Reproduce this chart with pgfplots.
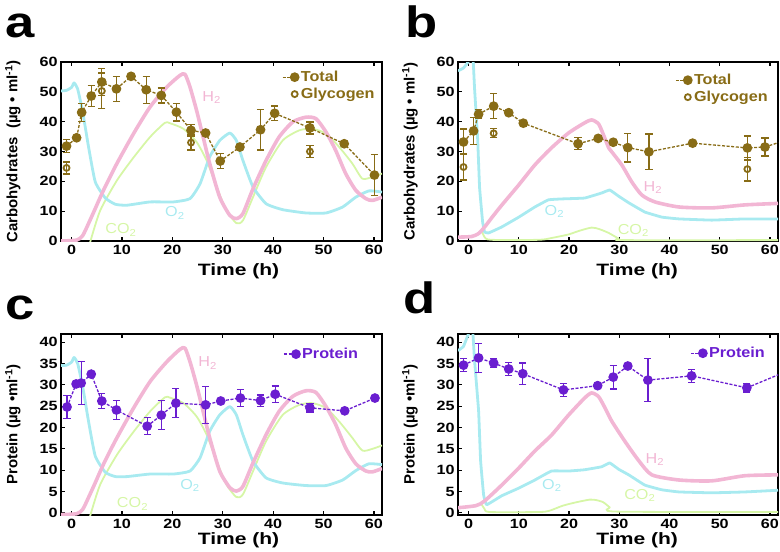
\documentclass[border=0pt]{standalone}
\usepackage{fontspec}
\setmainfont{Liberation Sans}
\usepackage{graphicx}
\usepackage{pgfplots}
\usepackage{pgfplotstable}
\pgfplotsset{compat=1.18}

\definecolor{hpink}{RGB}{242,182,212}
\definecolor{ocyan}{RGB}{168,234,240}
\definecolor{cgreen}{RGB}{214,246,166}
\definecolor{olive}{RGB}{136,108,22}
\definecolor{purp}{RGB}{106,30,208}

\newcommand{\sx}[1]{\scalebox{1.12}[1]{#1}}
\newcommand{\sxt}[1]{\scalebox{1.2}[1]{#1}}

% panel a: total carbohydrates and glycogen
\pgfplotstableread{
x y e
-1 31.8 2.2
1 34.6 0
2 43.1 3
3.9 48.6 3.5
6 53.3 4.5
8.9 51 4.2
11.8 55.2 0.5
14.8 50.7 4.5
17.8 48.8 2.5
20.8 43.2 3
23.7 37.1 2
26.6 36.2 0.5
29.5 26.8 2.5
33.4 31.5 0.5
37.5 37.3 6.8
40.3 42.8 2.5
47.3 37.9 2
54.1 32.6 0.5
60.1 22.1 6.8
}\tota
\pgfplotstableread{
x y e
-1 24.5 2
6 50.3 6
23.7 33 2.5
47.3 30 2
}\glya
% panel b
\pgfplotstableread{
x y e
-1 33.2 4.3
1 36.9 4.5
2 42.5 1.5
5 45.2 4.2
8 43 0
10.9 39.5 1
21.8 32.6 2
25.8 34.4 0.5
28.8 33.1 0
31.7 31.3 4.8
35.9 29.9 6
44.6 32.8 0
55.5 31.2 4
59 31.5 3
}\totb
\pgfplotstableread{
x y e
-1 24.8 4.4
5 36.1 1.5
55.5 24.1 4
}\glyb
% panel c: protein
\pgfplotstableread{
x y e
-0.9 24.8 2.7
0.9 30.2 0
1.9 30.4 5
3.9 32.5 0.5
6.0 26.2 1.7
8.9 24.1 2.2
15 20.3 2
17.8 22.9 3.4
20.7 25.7 3.4
26.6 25.3 4.3
29.6 26.2 0
33.5 26.9 2
37.5 26.3 1.3
40.4 27.8 1.9
47.3 24.6 1
54.2 23.9 0
60.2 26.9 0
}\protc
% panel d: protein
\pgfplotstableread{
x y e
-1 34.6 1.5
2 36.3 3.4
5 35.1 1
8 33.7 1.5
10.8 32.6 2.5
18.9 28.8 1.5
25.7 29.8 0
28.8 31.8 2.8
31.7 34.4 0
35.7 31.1 5
44.4 32.1 1.5
55.4 29.3 1
}\protd

\tikzset{gaslabel/.style={font=\fontsize{14.5}{16}\selectfont}}

\pgfplotsset{
  panel/.style={
    scale only axis,
    xmin=-2.1, xmax=61.6,
    xtick={0,10,...,60},
    tick align=inside,
    xtick pos=both, ytick pos=left,
    axis line style={line width=1.6bp},
    tick style={black, line width=1.2bp},
    major tick length=4bp,
    /pgf/number format/assume math mode=true,
    tick label style={font=\fontsize{13.5}{15}\selectfont\bfseries},
    xticklabel style={inner sep=1bp, yshift=-2.5bp},
    xticklabel={\sxt{\pgfmathprintnumber{\tick}}},
    yticklabel={\sxt{\pgfmathprintnumber{\tick}}},
    xlabel={\scalebox{1.28}[1]{Time (h)}},
    xlabel style={font=\fontsize{16.5}{18}\selectfont\bfseries, anchor=center, inner sep=0.5bp},
    ylabel style={font=\fontsize{15}{16}\selectfont\bfseries,
      at={(axis description cs:-0.15,0.5)}, anchor=center},
    legend style={draw=none, fill=none, inner sep=0pt,
      font=\fontsize{14.5}{16}\selectfont\bfseries, row sep=1bp},
    legend cell align=left,
  },
  h2/.style={forget plot, no markers, smooth, tension=0.4, hpink, line width=3.6bp, line join=round},
  o2/.style={forget plot, no markers, smooth, tension=0.3, ocyan, line width=2.8bp, line join=round},
  co2/.style={forget plot, no markers, smooth, tension=0.4, cgreen, line width=1.8bp, line join=round},
  series/.style={#1, line width=1.3bp, dash pattern=on 3bp off 1.6bp,
    mark=*, mark size=4.2bp, mark options={solid, fill=#1},
    legend image code/.code={
      \draw[##1, mark=none] (0bp,0bp) -- (9bp,0bp);
      \draw[##1, solid] plot coordinates {(12bp,0bp)};},
    error bars/.cd, y dir=both, y explicit,
    error bar style={solid, line width=1.3bp},
    error mark options={rotate=90, mark size=3.6bp, line width=1.3bp, solid}},
  glyc/.style={olive, only marks, mark=o, mark size=3bp,
    mark options={line width=1.8bp},
    legend image code/.code={
      \path[draw=none, fill=none] (0bp,-0.1bp) rectangle (9bp,0.1bp);
      \draw[olive, line width=1.8bp] plot[mark=o, mark size=3bp, only marks] coordinates {(12bp,0bp)};},
    error bars/.cd, y dir=both, y explicit,
    error bar style={line width=1.3bp},
    error mark options={rotate=90, mark size=3.6bp, line width=1.3bp}},
}

\begin{document}
\begin{tikzpicture}
\path[use as bounding box] (0,0) rectangle (780bp,-552bp);

%%%%%%%%%%%%%%%% panel a
\begin{axis}[panel, at={(61bp,-241bp)}, anchor=south west,
  width=321bp, height=179bp, ymin=0, ymax=60, ytick={0,10,...,60},
  xlabel style={at={(axis description cs:0.553,-0.17)}},
  ylabel={Carbohydrates\ \ (µg • ml\textsuperscript{-1})},
  legend style={at={(rel axis cs:0.688,0.961)}, anchor=north west, text=olive}]
\addplot[co2] coordinates {(3,-5) (3.75,0) (5.7,10.3) (9,20.3) (12.3,28) (15.6,34.9) (18.5,39.6) (19.5,39.5) (22.2,37.6) (24.8,33.2) (26.8,27) (28.8,18.1) (30.7,10.3) (32.7,6) (34,6.9) (36,14.7) (38.6,24.8) (41.9,33.7) (45.2,37.1) (47.8,37.6) (50.5,36) (53.1,31.5) (55.7,26) (57.7,20.9) (59.7,21.5) (61.6,22.6)};
\addplot[o2] coordinates {(-2.1,50.3) (-1,50.5) (0,51.5) (0.5,53) (1.2,51) (2.2,43.3) (3.4,31.2) (4.7,19.8) (6.7,14.4) (8.7,12.3) (11,12) (15.6,13.1) (20.2,13.1) (23.5,14.2) (25.5,19.2) (27.4,28.2) (29.4,33.7) (31.4,36.2) (32.7,33.7) (34,27) (36,18.1) (38.6,12.5) (41.9,10.5) (46.5,9.4) (50.5,9.4) (53.8,11.4) (56.4,14.7) (59,16.8) (61.6,16.4)};
\addplot[h2] coordinates {(-2.1,0) (1,0.3) (2.2,1.8) (3.4,6) (4.6,10.5) (5.7,14.7) (6.7,18.3) (9,26) (12.3,36) (15.6,45) (18.9,51.6) (21.5,55.5) (22.5,55.9) (23.5,51.6) (24.8,43.8) (26.1,34.9) (27.4,26) (29.4,14.7) (31.4,8.6) (32.7,7.5) (34,9.2) (36,17.5) (38.6,27) (41.2,34.9) (43.9,39.9) (46.5,41.5) (48.5,41) (50.5,36.5) (52.4,30.4) (54.4,22.6) (56.4,17) (58.4,14.2) (59.7,13.6) (61.6,14.7)};
\node[gaslabel, text=hpink] at (axis cs:27.8,48) {\sx{H\textsubscript{2}}};
\node[gaslabel, text=ocyan] at (axis cs:20.5,9.4) {\sx{O\textsubscript{2}}};
\node[gaslabel, text=cgreen] at (axis cs:9.8,3.7) {\sx{CO\textsubscript{2}}};
\addplot[series=olive] table[x=x, y=y, y error=e] {\tota};
\addlegendentry{\sx{Total}}
\addplot[glyc] table[x=x, y=y, y error=e] {\glya};
\addlegendentry{\sx{Glycogen}}
\end{axis}

%%%%%%%%%%%%%%%% panel b
\begin{axis}[panel, at={(458bp,-241bp)}, anchor=south west,
  width=320bp, height=179bp, ymin=0, ymax=60, ytick={0,10,...,60},
  xlabel style={at={(axis description cs:0.56,-0.17)}},
  ylabel={Carbohydrates (µg • ml\textsuperscript{-1})},
  legend style={at={(rel axis cs:0.678,0.944)}, anchor=north west, text=olive}]
\addplot[co2] coordinates {(2.6,3.5) (3.2,1.3) (4.5,0.4) (14,0.4) (16.5,1) (19.9,2.2) (22,3.4) (24.5,4.5) (26,4) (27.9,2.7) (29.9,0.8) (31,0.3) (61.6,0.3)};
\addplot[o2, tension=0.15] coordinates {(-2.1,57) (-1,58) (-0.3,59.5) (0.3,61) (0.9,61) (1.2,51) (1.8,34.6) (2.2,17.8) (2.8,6.4) (3.2,3) (4,2.7) (6.6,4.7) (10,8) (13.2,11.4) (15.9,13.8) (18.5,14.1) (23.1,14.4) (26.5,16.1) (28.1,17.1) (29.9,15) (31.9,12.8) (35.1,9.7) (38.5,8) (41.9,7.4) (48.4,7) (55,7.4) (61.6,7.4)};
\addplot[h2] coordinates {(-2.1,1.3) (0.6,1.5) (2,2.5) (3.2,4.7) (4.8,8.2) (6.6,12) (10,18.8) (13.2,25.5) (16.5,31.2) (19.9,36.2) (23.1,39.6) (24.5,40.6) (25.9,39.2) (27,35) (27.9,31.2) (28.5,29.9) (30.5,25.5) (32.5,19.8) (34.5,15.4) (37.1,13.1) (41.9,11.4) (48.4,11.1) (55,12.1) (61.6,12.6)};
\node[gaslabel, text=hpink] at (axis cs:36.7,17.8) {\sx{H\textsubscript{2}}};
\node[gaslabel, text=ocyan] at (axis cs:17.1,10) {\sx{O\textsubscript{2}}};
\node[gaslabel, text=cgreen] at (axis cs:32.8,3.6) {\sx{CO\textsubscript{2}}};
\addplot[olive, line width=1.3bp, dash pattern=on 3bp off 1.6bp, forget plot] coordinates {(59,31.5) (63,33.7)};
\addplot[series=olive] table[x=x, y=y, y error=e] {\totb};
\addlegendentry{\sx{Total}}
\addplot[glyc] table[x=x, y=y, y error=e] {\glyb};
\addlegendentry{\sx{Glycogen}}
\end{axis}

%%%%%%%%%%%%%%%% panel c
\begin{axis}[panel, at={(61bp,-515bp)}, anchor=south west,
  width=321bp, height=181bp, ymin=-0.5, ymax=41.9, ytick={0,5,...,40},
  xlabel style={at={(axis description cs:0.553,-0.14)}},
  ylabel={Protein (µg •ml\textsuperscript{-1})},
  legend style={at={(rel axis cs:0.692,0.934)}, anchor=north west, text=purp}]
\addplot[co2] coordinates {(3,-3.95) (3.75,-0.47) (5.7,6.69) (9,13.6) (12.3,19) (15.6,23.8) (18.5,27.05) (19.5,27) (22.2,25.7) (24.8,22.6) (26.8,18.3) (28.8,12.1) (30.7,6.69) (32.7,3.7) (34,4.33) (36,9.75) (38.6,16.8) (41.9,22.95) (45.2,25.3) (47.8,25.7) (50.5,24.55) (53.1,21.4) (55.7,17.6) (57.7,14.6) (59.7,15) (61.6,15.8)};
\addplot[o2] coordinates {(-2.1,34.5) (-1,34.6) (0,35.3) (0.5,36.4) (1.2,35) (2.2,29.6) (3.4,21.2) (4.7,13.3) (6.7,9.5) (8.7,8.5) (11,8.5) (15.6,9.1) (20.2,9.1) (23.5,9.8) (25.5,12.9) (27.4,19.1) (29.4,22.95) (31.4,24.9) (32.7,22.95) (34,18.3) (36,12.1) (38.6,8.2) (41.9,7) (46.5,6.4) (50.5,6.4) (53.8,7.7) (56.4,9.9) (59,11.5) (61.6,11.3)};
\addplot[h2] coordinates {(-2.1,-0.4) (1,-0.2) (2.2,0.8) (3.4,3.7) (4.6,6.8) (5.7,9.75) (6.7,12.3) (9,17.6) (12.3,24.55) (15.6,30.8) (18.9,35.4) (21.5,38.3) (22.5,38.6) (23.5,35.4) (24.8,29.97) (26.1,23.8) (27.4,17.6) (29.4,9.75) (31.4,5.9) (32.7,5.1) (34,6.2) (36,11.7) (38.6,18.3) (41.2,23.8) (43.9,27.3) (46.5,28.6) (48.5,28.2) (50.5,24.9) (52.4,20.7) (54.4,15.2) (56.4,11.5) (58.4,9.8) (59.7,9.6) (61.6,10.4)};
\node[gaslabel, text=hpink] at (axis cs:27,35.1) {\sx{H\textsubscript{2}}};
\node[gaslabel, text=ocyan] at (axis cs:23.5,6.4) {\sx{O\textsubscript{2}}};
\node[gaslabel, text=cgreen] at (axis cs:12.1,2.1) {\sx{CO\textsubscript{2}}};
\addplot[series=purp] table[x=x, y=y, y error=e] {\protc};
\addlegendentry{\sx{Protein}}
\end{axis}

%%%%%%%%%%%%%%%% panel d
\begin{axis}[panel, at={(458bp,-515bp)}, anchor=south west,
  width=320bp, height=181bp, ymin=-0.5, ymax=41.9, ytick={0,5,...,40},
  xlabel style={at={(axis description cs:0.56,-0.14)}},
  ylabel={Protein (µg •ml\textsuperscript{-1})},
  legend style={at={(rel axis cs:0.725,0.939)}, anchor=north west, text=purp}]
\addplot[co2] coordinates {(2.6,2) (3.2,0.9) (4.2,0.2) (14,0.2) (16.1,0.5) (18.8,1.7) (21.5,2.5) (24.1,3.1) (25.4,3) (26.8,2.5) (28.1,1.3) (29.4,0.3) (61.6,0.2)};
\addplot[o2, tension=0.15] coordinates {(-2.1,38) (-1,39) (0,42) (0.8,43) (1.2,35.6) (2,23.9) (2.4,12.2) (3,4.2) (3.6,1.9) (6.6,4) (10,5.8) (13.2,7.7) (16.5,9.8) (19.9,9.8) (23.1,10.1) (26.5,10.8) (28.1,11.7) (29.9,10.2) (31.9,8.9) (35.1,6.5) (38.5,5.4) (41.9,4.9) (48.4,4.7) (55,4.9) (61.6,5.3)};
\addplot[h2] coordinates {(-2.1,1.2) (1.5,1.7) (3.2,2.8) (6.6,6.5) (10,10.5) (13.2,14.5) (16.5,18.2) (19.9,22.9) (23.1,26.9) (24.5,28.1) (25.9,27.2) (27.2,24.5) (28.5,21.5) (31.1,16.8) (33.9,12.2) (36.5,8.9) (41.9,7.7) (48.4,7.5) (55,8.7) (61.6,8.9)};
\node[gaslabel, text=hpink] at (axis cs:37.1,12.4) {\sx{H\textsubscript{2}}};
\node[gaslabel, text=ocyan] at (axis cs:16.6,6.4) {\sx{O\textsubscript{2}}};
\node[gaslabel, text=cgreen] at (axis cs:34.1,4) {\sx{CO\textsubscript{2}}};
\addplot[purp, line width=1.3bp, dash pattern=on 3bp off 1.6bp, forget plot] coordinates {(55.4,29.3) (63,33)};
\addplot[series=purp] table[x=x, y=y, y error=e] {\protd};
\addlegendentry{\sx{Protein}}
\end{axis}

% panel letters
\node[anchor=base west, inner sep=0pt, font=\fontsize{44}{44}\selectfont\bfseries] at (5bp,-37bp) {\scalebox{1.2}[1]{a}};
\node[anchor=base west, inner sep=0pt, font=\fontsize{44}{44}\selectfont\bfseries] at (405bp,-37bp) {\scalebox{1.2}[1]{b}};
\node[anchor=base west, inner sep=0pt, font=\fontsize{44}{44}\selectfont\bfseries] at (5bp,-319bp) {\scalebox{1.2}[1]{c}};
\node[anchor=base west, inner sep=0pt, font=\fontsize{44}{44}\selectfont\bfseries] at (403bp,-313bp) {\scalebox{1.2}[1]{d}};
\end{tikzpicture}
\end{document}
